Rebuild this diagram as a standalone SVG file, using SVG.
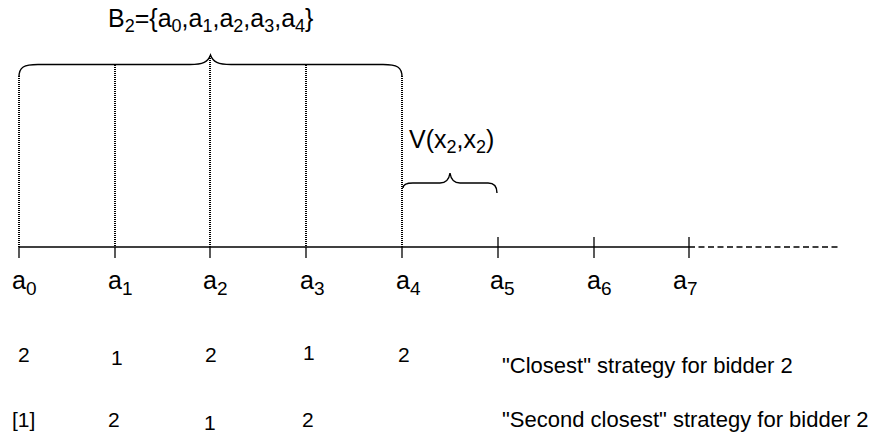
<svg xmlns="http://www.w3.org/2000/svg" width="880" height="439" viewBox="0 0 880 439">
<style>
.ax{stroke:#000;stroke-width:1.3;fill:none}
.dot{stroke:#000;stroke-width:2;stroke-dasharray:1 1;fill:none}
.dash{stroke:#000;stroke-width:1.5;stroke-dasharray:6 3.5;fill:none}
.br{stroke:#000;stroke-width:1.4;fill:none}
text{font-family:"Liberation Sans",Arial,sans-serif;fill:#000}
.lab{font-size:25px}
.sub{font-size:19px}
.top{font-size:25px}
.tsub{font-size:18px}
.num{font-size:21px}
.str{font-size:22px}
</style>
<rect width="880" height="439" fill="#fff"/>
<g id="axis">
<line class="ax" x1="19" y1="247" x2="689" y2="247"/>
<line class="dash" x1="689" y1="247" x2="840" y2="247"/>
<line class="ax" x1="19" y1="247" x2="19" y2="258"/>
<line class="ax" x1="115" y1="247" x2="115" y2="258"/>
<line class="ax" x1="210" y1="247" x2="210" y2="258"/>
<line class="ax" x1="306" y1="247" x2="306" y2="258"/>
<line class="ax" x1="402" y1="247" x2="402" y2="258"/>
<line class="ax" x1="498" y1="237" x2="498" y2="258"/>
<line class="ax" x1="594" y1="237" x2="594" y2="258"/>
<line class="ax" x1="689" y1="237" x2="689" y2="258"/>
</g>
<g id="dotted">
<line class="dot" x1="19" y1="76" x2="19" y2="247"/>
<line class="dot" x1="115" y1="65" x2="115" y2="247"/>
<line class="dot" x1="210" y1="56" x2="210" y2="247"/>
<line class="dot" x1="306" y1="65" x2="306" y2="247"/>
<line class="dot" x1="402" y1="76" x2="402" y2="247"/>
</g>
<g id="brace-B2">
<path class="br" d="M19,77 C19,67 24,64.5 38,64.5 L190,64.5 C203,64.5 208,62 210.5,55 C213,62 218,64.5 231,64.5 L383,64.5 C397,64.5 402,67 402,77"/>
<text class="top" x="108" y="27">B<tspan class="tsub" dy="5">2</tspan><tspan dy="-5">={a</tspan><tspan class="tsub" dy="5">0</tspan><tspan dy="-5">,a</tspan><tspan class="tsub" dy="5">1</tspan><tspan dy="-5">,a</tspan><tspan class="tsub" dy="5">2</tspan><tspan dy="-5">,a</tspan><tspan class="tsub" dy="5">3</tspan><tspan dy="-5">,a</tspan><tspan class="tsub" dy="5">4</tspan><tspan dy="-5">}</tspan></text>
</g>
<g id="brace-V">
<path class="br" d="M403,188 C403,185 406,183 413,183 L440,183 C446,183 449,180 450,173 C451,180 454,183 460,183 L488,183 C494,183 497,186 497,193"/>
<text class="top" x="409" y="148">V(x<tspan class="tsub" dy="5">2</tspan><tspan dy="-5">,x</tspan><tspan class="tsub" dy="5">2</tspan><tspan dy="-5">)</tspan></text>
</g>
<g id="labels">
<text class="lab" x="12" y="289">a<tspan class="sub" dy="6">0</tspan></text>
<text class="lab" x="108" y="289">a<tspan class="sub" dy="6">1</tspan></text>
<text class="lab" x="203" y="289">a<tspan class="sub" dy="6">2</tspan></text>
<text class="lab" x="300" y="289">a<tspan class="sub" dy="6">3</tspan></text>
<text class="lab" x="396" y="289">a<tspan class="sub" dy="6">4</tspan></text>
<text class="lab" x="490" y="289">a<tspan class="sub" dy="6">5</tspan></text>
<text class="lab" x="587" y="289">a<tspan class="sub" dy="6">6</tspan></text>
<text class="lab" x="673" y="289">a<tspan class="sub" dy="6">7</tspan></text>
</g>
<g id="row1">
<text class="num" x="18" y="362">2</text>
<text class="num" x="111" y="365">1</text>
<text class="num" x="205" y="362">2</text>
<text class="num" x="303" y="360">1</text>
<text class="num" x="398" y="362">2</text>
<text class="str" x="502" y="373">"Closest" strategy for bidder 2</text>
</g>
<g id="row2">
<text class="num" x="12" y="427">[1]</text>
<text class="num" x="108" y="427">2</text>
<text class="num" x="204" y="430">1</text>
<text class="num" x="302" y="427">2</text>
<text class="str" x="502" y="427">"Second closest" strategy for bidder 2</text>
</g>
</svg>
